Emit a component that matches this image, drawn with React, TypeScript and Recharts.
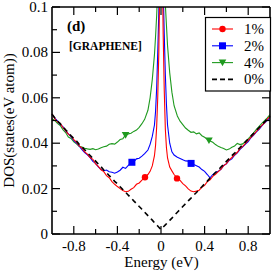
import React from "react";
import { ComposedChart, Line, XAxis, YAxis } from "recharts";

const energy = [
  -1, -0.975, -0.95, -0.925, -0.9, -0.875, -0.85, -0.825, -0.8, -0.775, -0.75, -0.725, -0.7, -0.675,
  -0.65, -0.625, -0.6, -0.575, -0.55, -0.525, -0.5, -0.475, -0.45, -0.425, -0.4, -0.375, -0.35, -0.325,
  -0.3, -0.275, -0.25, -0.225, -0.2, -0.175, -0.15,
  -0.12, -0.1, -0.08, -0.06, -0.05, -0.04, -0.03, -0.02, -0.01,
  0,
  0.01, 0.02, 0.03, 0.04, 0.05, 0.06, 0.08, 0.1, 0.12,
  0.15, 0.175, 0.2, 0.225, 0.25, 0.275, 0.3, 0.325, 0.35, 0.375, 0.4, 0.425, 0.45, 0.475,
  0.5, 0.525, 0.55, 0.575, 0.6, 0.625, 0.65, 0.675, 0.7, 0.725, 0.75, 0.775, 0.8, 0.825,
  0.85, 0.875, 0.9, 0.925, 0.95, 0.975, 1,
];

// 1%
const dos1 = [
  0.053, 0.0508, 0.0494, 0.0487, 0.0469, 0.0455, 0.044, 0.0431, 0.0416, 0.0405, 0.0388, 0.0378, 0.0362, 0.0352,
  0.0337, 0.0329, 0.0309, 0.0298, 0.0283, 0.0275, 0.0257, 0.0248, 0.0231, 0.0219, 0.0209, 0.02, 0.0192, 0.0186,
  0.0188, 0.0197, 0.0204, 0.0219, 0.0225, 0.0237, 0.025,
  0.0262, 0.0276, 0.03, 0.0345, 0.039, 0.047, 0.06, 0.08, 0.115,
  0.16,
  0.125, 0.088, 0.063, 0.046, 0.038, 0.0335, 0.0295, 0.0278, 0.0262,
  0.0246, 0.0236, 0.0222, 0.0212, 0.0199, 0.0189, 0.0186, 0.0189, 0.0193, 0.0206, 0.0214, 0.0231, 0.0239, 0.0254,
  0.0263, 0.0275, 0.0286, 0.0301, 0.031, 0.0326, 0.0337, 0.0349, 0.036, 0.0376, 0.0386, 0.0399, 0.0412, 0.0426,
  0.0438, 0.0452, 0.0464, 0.0479, 0.049, 0.0506, 0.0518,
];

// 2%
const dos2 = [
  0.0527, 0.0511, 0.0498, 0.0483, 0.0473, 0.0454, 0.0441, 0.0428, 0.0412, 0.0401, 0.0387, 0.0372, 0.0359, 0.0349,
  0.0336, 0.032, 0.0311, 0.0296, 0.0284, 0.0279, 0.0282, 0.0274, 0.0272, 0.0268, 0.0273, 0.0281, 0.0294, 0.0289,
  0.0302, 0.0313, 0.0318, 0.0331, 0.0334, 0.0343, 0.0354,
  0.037, 0.0395, 0.043, 0.048, 0.054, 0.064, 0.08, 0.098, 0.125,
  0.16,
  0.135, 0.108, 0.088, 0.07, 0.057, 0.048, 0.04, 0.0362, 0.0348,
  0.0338, 0.0333, 0.0327, 0.0322, 0.0321, 0.0312, 0.0306, 0.0301, 0.0295, 0.0284, 0.0276, 0.0262, 0.0247, 0.0262,
  0.0271, 0.0276, 0.0285, 0.0302, 0.0309, 0.0324, 0.0331, 0.0347, 0.0357, 0.0373, 0.0384, 0.0396, 0.0407, 0.0424,
  0.0436, 0.045, 0.0461, 0.0476, 0.0489, 0.0501, 0.0514,
];

// 4%
const dos4 = [
  0.0508, 0.05, 0.0487, 0.0478, 0.046, 0.0447, 0.0427, 0.0421, 0.0406, 0.0397, 0.0386, 0.0383, 0.0378, 0.0375,
  0.0373, 0.0376, 0.0371, 0.0374, 0.038, 0.0384, 0.0387, 0.0395, 0.0398, 0.0396, 0.0405, 0.0416, 0.042, 0.0436,
  0.0441, 0.0444, 0.0452, 0.0458, 0.047, 0.0486, 0.0505,
  0.0545, 0.06, 0.068, 0.079, 0.087, 0.096, 0.108, 0.123, 0.142,
  0.16,
  0.148, 0.13, 0.114, 0.101, 0.092, 0.083, 0.071, 0.0625, 0.0565,
  0.052, 0.0497, 0.0482, 0.0467, 0.0457, 0.0448, 0.045, 0.0441, 0.0445, 0.0433, 0.0426, 0.0417, 0.041, 0.0404,
  0.0394, 0.0386, 0.0381, 0.0377, 0.037, 0.0374, 0.0382, 0.0388, 0.0399, 0.0394, 0.0397, 0.0408, 0.0419, 0.0432,
  0.0446, 0.0461, 0.0474, 0.0487, 0.0499, 0.0512, 0.0526,
];

// 0% (clean graphene)
const dos0 = [
  0.0527, 0.0512, 0.0497, 0.0486, 0.0472, 0.0459, 0.0447, 0.0433, 0.0421, 0.041, 0.0395, 0.0384, 0.0371, 0.0357,
  0.0346, 0.0333, 0.0321, 0.0308, 0.0296, 0.0282, 0.0271, 0.0257, 0.0246, 0.0232, 0.0221, 0.0208, 0.0196, 0.0184,
  0.0171, 0.0159, 0.0146, 0.0134, 0.0121, 0.0109, 0.0096,
  0.0081, 0.0071, 0.0061, 0.005, 0.0045, 0.004, 0.0035, 0.003, 0.0025,
  0.002,
  0.0025, 0.003, 0.0035, 0.004, 0.0045, 0.005, 0.006, 0.007, 0.0081,
  0.0096, 0.0108, 0.0121, 0.0133, 0.0146, 0.0158, 0.0171, 0.0183, 0.0196, 0.0208, 0.0221, 0.0233, 0.0246, 0.0258,
  0.0271, 0.0282, 0.0295, 0.0307, 0.032, 0.0332, 0.0345, 0.0356, 0.0369, 0.0381, 0.0394, 0.0406, 0.0419, 0.0431,
  0.0444, 0.0457, 0.0469, 0.0481, 0.0494, 0.0506, 0.0519,
];

// symbol positions on each curve
const mark1E = [-0.147, 0.147];
const mark1V = [0.025, 0.0245];
const mark2E = [-0.267, 0.276];
const mark2V = [0.0316, 0.0311];
const mark4E = [-0.325, 0.44];
const mark4V = [0.0436, 0.0412];

const xTicks = [-0.8, -0.6, -0.4, -0.2, 0, 0.2, 0.4, 0.6, 0.8];
const yTicks = [0, 0.01, 0.02, 0.03, 0.04, 0.05, 0.06, 0.07, 0.08, 0.09, 0.1];
const xMajor = ["-0.8", "-0.4", "0", "0.4", "0.8"];
const yMajor = ["0", "0.02", "0.04", "0.06", "0.08", "0.1"];

const RED = "#ff0000";
const BLUE = "#0000ff";
const GREEN = "#1f9a1f";

const legendItems = [
  { name: "1%", color: RED, shape: "circle" },
  { name: "2%", color: BLUE, shape: "square" },
  { name: "4%", color: GREEN, shape: "tri" },
  { name: "0%", color: "#000000", shape: "none" },
];

const data = energy.map((e, i) => ({
  e,
  p1: dos1[i],
  p2: dos2[i],
  p4: dos4[i],
  p0: dos0[i],
}));

const marks = (es: number[], vs: number[]) => es.map((e, i) => ({ e, v: vs[i] }));

const FONT = "Liberation Serif, Times New Roman, serif";
const serif = { fontFamily: FONT };
const MAJ = 8;
const MIN = 5;

const fmtX = (v: number) => (Math.abs(v) < 1e-9 ? "0" : String(Math.round(v * 10) / 10));
const fmtY = (v: number) => (v === 0 ? "0" : String(Math.round(v * 100) / 100));

function Shape({ cx, cy, shape, color }: any) {
  if (shape === "circle") return <circle cx={cx} cy={cy} r={3.2} fill={color} />;
  if (shape === "square") return <rect x={cx - 3.5} y={cy - 3.5} width={7} height={7} fill={color} />;
  if (shape === "tri")
    return <path d={`M${cx - 3.8},${cy - 3} L${cx + 3.8},${cy - 3} L${cx},${cy + 3.6} Z`} fill={color} />;
  return null;
}

const dotOf = (shape: string, color: string) => (p: any) =>
  <Shape key={p.index} cx={p.cx} cy={p.cy} shape={shape} color={color} />;

const BottomTick = (p: any) => {
  const label = fmtX(p.payload.value);
  const major = xMajor.includes(label);
  return (
    <g>
      <line x1={p.x} x2={p.x} y1={p.y} y2={p.y - (major ? MAJ : MIN)} stroke="#000" strokeWidth={1.2} />
      {major && (
        <text x={p.x} y={p.y + 17} textAnchor="middle" fontSize={15} style={serif} fill="#000">
          {label}
        </text>
      )}
    </g>
  );
};

const TopTick = (p: any) => {
  const major = xMajor.includes(fmtX(p.payload.value));
  return <line x1={p.x} x2={p.x} y1={p.y} y2={p.y + (major ? MAJ : MIN)} stroke="#000" strokeWidth={1.2} />;
};

const LeftTick = (p: any) => {
  const label = fmtY(p.payload.value);
  const major = yMajor.includes(label);
  return (
    <g>
      <line x1={p.x} x2={p.x + (major ? MAJ : MIN)} y1={p.y} y2={p.y} stroke="#000" strokeWidth={1.2} />
      {major && (
        <text x={p.x - 4} y={p.y + 5} textAnchor="end" fontSize={15} style={serif} fill="#000">
          {label}
        </text>
      )}
    </g>
  );
};

const RightTick = (p: any) => {
  const major = yMajor.includes(fmtY(p.payload.value));
  return <line x1={p.x} x2={p.x - (major ? MAJ : MIN)} y1={p.y} y2={p.y} stroke="#000" strokeWidth={1.2} />;
};

const axisLine = { stroke: "#000", strokeWidth: 1.6 };

export default function App() {
  return (
    <div style={{ position: "absolute", left: 0, top: 0, width: 273, height: 273, background: "#fff", ...serif }}>
      <ComposedChart width={273} height={273} data={data} margin={{ top: 0, right: 0, bottom: 0, left: 0 }}>
        <XAxis
          xAxisId="b"
          type="number"
          dataKey="e"
          domain={[-1, 1]}
          ticks={xTicks}
          interval={0}
          height={39}
          tickSize={0}
          tickMargin={0}
          tickLine={false}
          axisLine={axisLine}
          tick={BottomTick}
        />
        <XAxis
          xAxisId="t"
          orientation="top"
          type="number"
          dataKey="e"
          domain={[-1, 1]}
          ticks={xTicks}
          interval={0}
          height={7}
          tickSize={0}
          tickMargin={0}
          tickLine={false}
          axisLine={axisLine}
          tick={TopTick}
        />
        <YAxis
          yAxisId="l"
          type="number"
          domain={[0, 0.1]}
          allowDataOverflow
          ticks={yTicks}
          interval={0}
          width={52}
          tickSize={0}
          tickMargin={0}
          tickLine={false}
          axisLine={axisLine}
          tick={LeftTick}
        />
        <YAxis
          yAxisId="r"
          orientation="right"
          type="number"
          domain={[0, 0.1]}
          allowDataOverflow
          ticks={yTicks}
          interval={0}
          width={3}
          tickSize={0}
          tickMargin={0}
          tickLine={false}
          axisLine={axisLine}
          tick={RightTick}
        />
        <Line xAxisId="b" yAxisId="l" dataKey="p4" stroke={GREEN} strokeWidth={1.1} dot={false} isAnimationActive={false} />
        <Line xAxisId="b" yAxisId="l" dataKey="p2" stroke={BLUE} strokeWidth={1.1} dot={false} isAnimationActive={false} />
        <Line xAxisId="b" yAxisId="l" dataKey="p1" stroke={RED} strokeWidth={1.1} dot={false} isAnimationActive={false} />
        <Line
          xAxisId="b"
          yAxisId="l"
          dataKey="p0"
          stroke="#000"
          strokeWidth={1.6}
          strokeDasharray="5 4"
          dot={false}
          isAnimationActive={false}
        />
        <Line xAxisId="b" yAxisId="l" data={marks(mark4E, mark4V)} dataKey="v" stroke="none" dot={dotOf("tri", GREEN)} isAnimationActive={false} />
        <Line xAxisId="b" yAxisId="l" data={marks(mark2E, mark2V)} dataKey="v" stroke="none" dot={dotOf("square", BLUE)} isAnimationActive={false} />
        <Line xAxisId="b" yAxisId="l" data={marks(mark1E, mark1V)} dataKey="v" stroke="none" dot={dotOf("circle", RED)} isAnimationActive={false} />
      </ComposedChart>
      <svg width={273} height={273} style={{ position: "absolute", left: 0, top: 0, pointerEvents: "none", ...serif }}>
        <text x={67} y={31} fontSize={15} fontWeight="bold" style={serif}>(d)</text>
        <text x={69} y={50} fontSize={11.5} fontWeight="bold" style={serif}>[GRAPHENE]</text>
        <text x={161.5} y={267} fontSize={15} textAnchor="middle" style={serif}>Energy (eV)</text>
        <text x={0} y={0} fontSize={15} textAnchor="middle" style={serif} transform="translate(14,120.5) rotate(-90)">
          DOS(states(eV atom))
        </text>
        <rect x={205.5} y={17.5} width={65} height={73.5} fill="#fff" stroke="#000" strokeWidth={1.2} />
        {legendItems.map((it, i) => {
          const cy = 29 + i * 16.8;
          return (
            <g key={it.name}>
              <line
                x1={212}
                x2={233}
                y1={cy}
                y2={cy}
                stroke={it.color}
                strokeWidth={it.shape === "none" ? 1.6 : 1.1}
                strokeDasharray={it.shape === "none" ? "5 3" : undefined}
              />
              <Shape cx={222.5} cy={cy} shape={it.shape} color={it.color} />
              <text x={244} y={cy + 5} fontSize={15} style={serif}>{it.name}</text>
            </g>
          );
        })}
      </svg>
    </div>
  );
}
